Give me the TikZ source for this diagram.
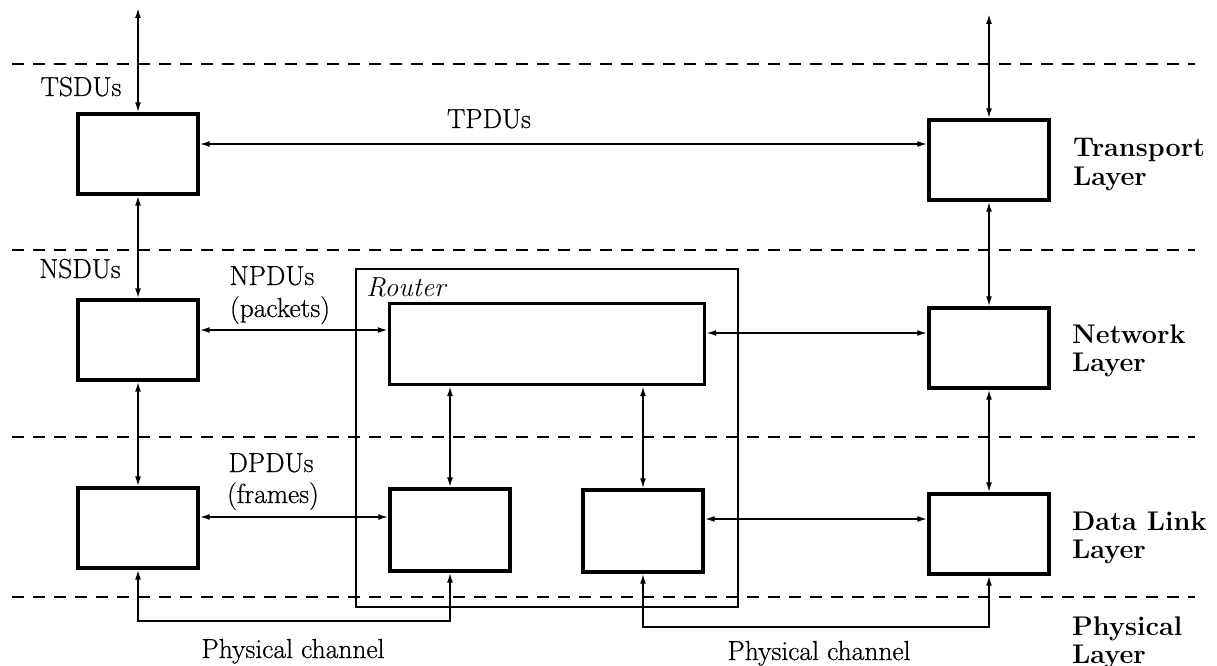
\documentclass[tikz,border=0pt]{standalone}
\usepackage{fontspec}
\setmainfont{Latin Modern Roman}[UprightFeatures={FakeBold=0.6}]
\usetikzlibrary{arrows.meta}
\begin{document}
\begin{tikzpicture}[x=1pt,y=-1pt,
  every node/.style={font=\fontsize{27.5}{31}\selectfont, inner sep=0pt},
  blk/.style={draw, line width=3.4pt, inner sep=0pt, minimum width=120pt, minimum height=80pt},
  conn/.style={line width=1.7pt, {Latex[length=10pt,width=6pt]}-{Latex[length=10pt,width=6pt]}},
  layerline/.style={line width=2.2pt, dash pattern=on 12pt off 9pt},
  txt/.style={anchor=base},
  lbl/.style={anchor=base west, font=\fontsize{27}{31}\selectfont\bfseries},
]
\useasboundingbox (0,0) rectangle (1217,666);

% layer separators
\draw[layerline] (12,64) -- (1195,64);
\draw[layerline] (12,250) -- (1195,250);
\draw[layerline] (12,437) -- (1195,437);
\draw[layerline] (12,597) -- (1195,597);

% router enclosure
\node[draw, line width=1.6pt, minimum width=382pt, minimum height=338pt] (router) at (547,438) {};
\node[txt, font=\fontsize{27.5}{31}\selectfont\itshape] (routerlbl) at (406,296) {Router};

% boxes
\node[blk] (lt) at (138,154) {};
\node[blk] (ln) at (138,340) {};
\node[blk] (ld) at (138,528) {};
\node[blk] (rt) at (989,160) {};
\node[blk] (rn) at (989,348) {};
\node[blk] (rd) at (989,534) {};
\node[blk, minimum width=315pt, minimum height=81pt] (xn) at (547,344) {};
\node[blk, minimum height=82pt] (xa) at (450,530) {};
\node[blk, minimum height=82pt] (xb) at (643,531) {};

% free ends
\coordinate (ltop) at (138,8);
\coordinate (rtop) at (989,14);

% vertical connectors
\draw[conn] (ltop) -- (lt);
\draw[conn] (lt) -- (ln);
\draw[conn] (ln) -- (ld);
\draw[conn] (rtop) -- (rt);
\draw[conn] (rt) -- (rn);
\draw[conn] (rn) -- (rd);
\draw[conn] (xn.south -| xa.north) -- (xa.north);
\draw[conn] (xn.south -| xb.north) -- (xb.north);

% horizontal connectors
\draw[conn] (lt.east |- 0,144) -- (rt.west |- 0,144);
\draw[conn] (ln.east |- 0,330) -- (xn.west |- 0,330);
\draw[conn] (xn.east |- 0,333) -- (rn.west |- 0,333);
\draw[conn] (ld.east |- 0,517) -- (xa.west |- 0,517);
\draw[conn] (xb.east |- 0,519) -- (rd.west |- 0,519);

% physical channels
\draw[conn] (ld.south) -- (ld.south |- 0,621) -| (xa.south);
\draw[conn] (xb.south) -- (xb.south |- 0,627) -| (rd.south);

% texts
\node[txt] (tsdu) at (81,96) {TSDUs};
\node[txt] (tpdu) at (489,128) {TPDUs};
\node[txt] (nsdu) at (80,278) {NSDUs};
\node[txt] (npdu) at (272,285) {NPDUs};
\node[txt] (pkts) at (280,317) {(packets)};
\node[txt] (dpdu) at (271,472) {DPDUs};
\node[txt] (frms) at (273,503) {(frames)};
\node[txt] (pc1) at (293,658) {Physical channel};
\node[txt] (pc2) at (819,660) {Physical channel};

\node[lbl] (tl1) at (1073,157) {Transport};
\node[lbl] (tl2) at (1073,185) {Layer};
\node[lbl] (nl1) at (1072,343) {Network};
\node[lbl] (nl2) at (1072,371) {Layer};
\node[lbl] (dl1) at (1072,530) {Data Link};
\node[lbl] (dl2) at (1072,558) {Layer};
\node[lbl] (pl1) at (1072,635) {Physical};
\node[lbl] (pl2) at (1072,663) {Layer};
\end{tikzpicture}
\end{document}
